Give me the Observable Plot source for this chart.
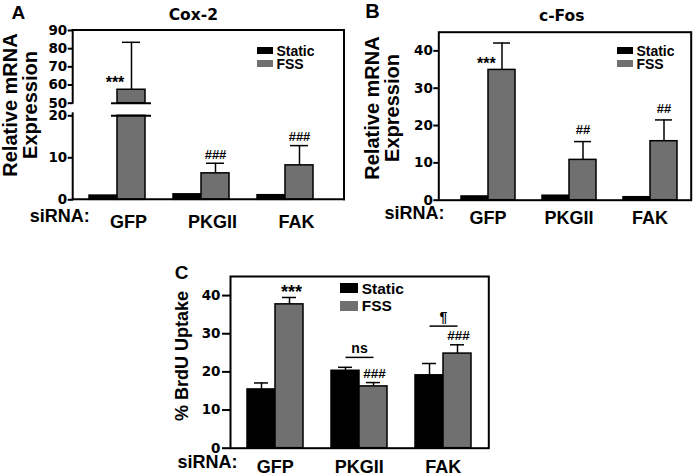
<!DOCTYPE html>
<html><head><meta charset="utf-8">
<script src="https://cdn.jsdelivr.net/npm/d3@7"></script>
<script src="https://cdn.jsdelivr.net/npm/@observablehq/plot@0.6"></script>
<style>
body{margin:0;background:#fff;}
#fig{position:relative;width:693px;height:476px;overflow:hidden;font-family:"Liberation Sans",Arial,Helvetica,sans-serif;font-weight:bold;color:#000;}
.abs{position:absolute;}
.ctr{position:absolute;transform:translate(-50%,-50%);white-space:nowrap;line-height:1;}
.panel svg{overflow:visible;}
.panel svg text{font-weight:bold !important;}
.panel [aria-label^="y-axis"] text{font-family:"DejaVu Sans",sans-serif;font-size:13.5px;}
.panel [aria-label^="y-axis"] line,.panel [aria-label="y-axis tick"] path{stroke-width:2px;}
.ttl{font-family:"DejaVu Sans",sans-serif;}
</style></head><body><div id="fig"></div>
<script>
// ---------- data ----------
const groups = ["GFP", "PKGII", "FAK"];
const conditions = ["Static", "FSS"];
const conditionColors = ["#000000", "#707070"];

// A: Cox-2
const coxStatic = [1.0, 1.3, 1.1];
const coxFSS = [57.4, 6.3, 8.2];
const coxFSSErr = [26.1, 2.4, 4.7];
const coxSig = ["***", "###", "###"];
const coxTicksUpper = [50, 60, 70, 80, 90];
const coxTicksLower = [0, 10, 20];

// B: c-Fos
const fosStatic = [1.0, 1.2, 0.8];
const fosFSS = [34.9, 10.8, 15.8];
const fosFSSErr = [7.2, 4.9, 5.7];
const fosSig = ["***", "##", "##"];
const fosTicks = [0, 10, 20, 30, 40];

// C: BrdU uptake
const brduStatic = [15.4, 20.3, 19.1];
const brduStaticErr = [1.7, 0.9, 3.1];
const brduFSS = [37.7, 16.2, 24.8];
const brduFSSErr = [1.8, 1.0, 2.3];
const brduSig = ["***", "###", "###"];
const brduTicks = [0, 10, 20, 30, 40];
const brduBrackets = [{group: "PKGII", label: "ns", y: 23.8}, {group: "FAK", label: "¶", y: 32.0}];

// ---------- helpers ----------
const FONT = '"Liberation Sans", Arial, Helvetica, sans-serif';
const TICKFONT = '"DejaVu Sans", sans-serif';
const keys = groups.flatMap((g, i) => [...(i ? [" ".repeat(i)] : []), g + " Static", g + " FSS"]);

function table(stat, statErr, fss, fssErr, sig) {
  const rows = [];
  groups.forEach((g, i) => {
    rows.push({group: g, cond: "Static", key: g + " Static", v: stat[i], err: statErr ? statErr[i] : null, sig: null});
    rows.push({group: g, cond: "FSS", key: g + " FSS", v: fss[i], err: fssErr[i], sig: sig[i]});
  });
  return rows;
}

function edges(sides, ext = {}) {
  return (index, scales, values, dim) => {
    const {width, height, marginTop, marginRight, marginBottom, marginLeft} = dim;
    const x0 = marginLeft, x1 = width - marginRight, y0 = marginTop, y1 = height - marginBottom;
    const ns = "http://www.w3.org/2000/svg";
    const g = document.createElementNS(ns, "g");
    const seg = {
      top: [x0, y0, x1, y0],
      bottom: [x0, y1, x1, y1],
      left: [x0, y0 - (ext.leftTop || 0), x0, y1],
      right: [x1, y0 - (ext.rightTop || 0), x1, y1 + (ext.rightBottom || 0)]
    };
    for (const s of sides) {
      const [a, b, c, d] = seg[s];
      const l = document.createElementNS(ns, "line");
      l.setAttribute("x1", a); l.setAttribute("y1", b); l.setAttribute("x2", c); l.setAttribute("y2", d);
      l.setAttribute("stroke", "#000"); l.setAttribute("stroke-width", 2); l.setAttribute("stroke-linecap", "square");
      g.appendChild(l);
    }
    return g;
  };
}

function basePlot(o) {
  return Plot.plot({
    width: o.width, height: o.height,
    marginTop: o.mt, marginRight: o.mr, marginBottom: o.mb, marginLeft: o.ml,
    style: {background: "transparent", fontFamily: TICKFONT, fontSize: "13.5px", fontWeight: "bold", overflow: "visible", color: "#000"},
    x: {domain: keys, axis: null, paddingInner: 0, paddingOuter: o.po, align: o.align},
    y: {domain: o.domain, ticks: o.ticks, tickSize: o.tickSize, tickPadding: o.tickPadding ?? 1, label: null},
    color: {domain: conditions, range: conditionColors},
    marks: o.marks
  });
}

const fig = document.getElementById("fig");
function place(node, left, top) {
  const d = document.createElement("div");
  d.className = "abs panel";
  d.style.left = left + "px"; d.style.top = top + "px";
  d.appendChild(node); fig.appendChild(d);
}
function text(t, x, y, size, extra = {}, cls = "") {
  const d = document.createElement("div");
  d.className = "ctr " + cls;
  d.style.left = x + "px"; d.style.top = y + "px"; d.style.fontSize = size + "px";
  d.innerHTML = t;
  Object.assign(d.style, extra);
  fig.appendChild(d);
}
function legend(x, yc, swW, swH, gap, rowH, fs) {
  conditions.forEach((c, i) => {
    const row = document.createElement("div");
    row.style.cssText = `position:absolute;left:${x}px;top:${yc + i * rowH - rowH / 2}px;height:${rowH}px;display:flex;align-items:center;font-size:${fs}px;line-height:1;white-space:nowrap;`;
    const sw = document.createElement("span");
    sw.style.cssText = `display:inline-block;width:${swW}px;height:${swH}px;background:${conditionColors[i]};margin-right:${gap}px;`;
    row.append(sw, document.createTextNode(c));
    fig.appendChild(row);
  });
}
const barStyle = {x: "key", fill: "cond", stroke: "#000", strokeWidth: 1.5};
const lab = {fontFamily: FONT, fontWeight: "bold", textAnchor: "middle"};

// ---------- Panel A (broken axis: two stacked plots) ----------
const coxRows = table(coxStatic, null, coxFSS, coxFSSErr, coxSig);
const aX = {width: 350, ml: 72.7, mr: 6, po: 0.789, align: 0.336};
const upperRows = coxRows.filter(d => d.v > 50);
place(basePlot({
  ...aX, height: 115, mt: 30, mb: 12.3, domain: [50, 90], ticks: coxTicksUpper, tickSize: 5,
  marks: [
    Plot.barY(upperRows, {...barStyle, y1: 50, y2: "v"}),
    Plot.ruleX(upperRows, {x: "key", y1: "v", y2: d => d.v + d.err, strokeWidth: 1.5}),
    Plot.tickY(upperRows, {x: "key", y: d => d.v + d.err, insetLeft: 5, insetRight: 5, strokeWidth: 1.5}),
    Plot.tickY(upperRows, {x: "key", y: 50, insetLeft: -6, insetRight: -6, strokeWidth: 2}),
    Plot.text(upperRows, {...lab, x: "key", y: "v", text: "sig", dx: -16.5, dy: -6.6, fontSize: 16}),
    edges(["top", "left", "right"], {rightBottom: 12.3})
  ]
}), 0, 0);

const lowerRows = coxRows;
place(basePlot({
  ...aX, height: 128, mt: 7.3, mb: 36.7, domain: [0, 20], ticks: coxTicksLower, tickSize: 5,
  marks: [
    Plot.barY(lowerRows, {...barStyle, y1: 0, y2: d => Math.min(d.v, 20)}),
    Plot.ruleX(lowerRows.filter(d => d.err && d.v < 20), {x: "key", y1: "v", y2: d => d.v + d.err, strokeWidth: 1.5}),
    Plot.tickY(lowerRows.filter(d => d.err && d.v < 20), {x: "key", y: d => d.v + d.err, insetLeft: 5, insetRight: 5, strokeWidth: 1.5}),
    Plot.tickY(lowerRows.filter(d => d.v > 20), {x: "key", y: 20, insetLeft: -6, insetRight: -6, strokeWidth: 2}),
    Plot.text(lowerRows.filter(d => d.sig && d.v < 20), {...lab, x: "key", y: d => d.v + d.err, text: "sig", dy: -8.5, fontSize: 13}),
    Plot.text(groups, {...lab, x: g => g + " FSS", y: 0, text: g => g, dx: -3, dy: 22, fontSize: 18}),
    Plot.text(["siRNA:"], {...lab, frameAnchor: "bottom-left", text: d => d, dx: -13.5, dy: 22, fontSize: 18}),
    edges(["left", "right", "bottom"], {leftTop: 2, rightTop: 8})
  ]
}), 0, 108);

// ---------- Panel B ----------
const fosRows = table(fosStatic, null, fosFSS, fosFSSErr, fosSig);
const fosErr = fosRows.filter(d => d.err);
place(basePlot({
  width: 343, height: 236, mt: 31.7, mr: 2.3, mb: 36.3, ml: 88.3, po: 0.535, align: 0.617,
  domain: [0, 45], ticks: fosTicks, tickSize: 5,
  marks: [
    Plot.frame({strokeWidth: 2}),
    Plot.barY(fosRows, {...barStyle, y1: 0, y2: "v"}),
    Plot.ruleX(fosErr, {x: "key", y1: "v", y2: d => d.v + d.err, strokeWidth: 1.5}),
    Plot.tickY(fosErr, {x: "key", y: d => d.v + d.err, insetLeft: 5, insetRight: 5, strokeWidth: 1.5}),
    Plot.text(fosRows.filter(d => d.group === "GFP" && d.sig), {...lab, x: "key", y: "v", text: "sig", dx: -15.6, dy: -5.7, fontSize: 16}),
    Plot.text(fosRows.filter(d => d.group !== "GFP" && d.sig), {...lab, x: "key", y: d => d.v + d.err, text: "sig", dy: -11.5, fontSize: 13}),
    Plot.text(groups, {...lab, x: g => g + " FSS", y: 0, text: g => g, dx: -14, dy: 18.5, fontSize: 18}),
    Plot.text(["siRNA:"], {...lab, frameAnchor: "bottom-left", text: d => d, dx: -24.3, dy: 18.5, fontSize: 18})
  ]
}), 350, 0);

// ---------- Panel C ----------
const brduRows = table(brduStatic, brduStaticErr, brduFSS, brduFSSErr, brduSig);
place(basePlot({
  width: 493, height: 226, mt: 26, mr: 4.7, mb: 28.3, ml: 230, po: 0.506, align: 0.483,
  domain: [0, 45], ticks: brduTicks, tickSize: 8, tickPadding: 2,
  marks: [
    Plot.frame({strokeWidth: 2}),
    Plot.barY(brduRows, {...barStyle, y1: 0, y2: "v"}),
    Plot.ruleX(brduRows, {x: "key", y1: "v", y2: d => d.v + d.err, strokeWidth: 1.5}),
    Plot.tickY(brduRows, {x: "key", y: d => d.v + d.err, insetLeft: 7, insetRight: 7, strokeWidth: 1.5}),
    Plot.text(brduRows.filter(d => d.group === "GFP" && d.sig), {...lab, x: "key", y: d => d.v + d.err, text: "sig", dx: 2, dy: -4.9, fontSize: 18}),
    Plot.text(brduRows.filter(d => d.group !== "GFP" && d.sig), {...lab, x: "key", y: d => d.v + d.err, text: "sig", dx: 1, dy: -9, fontSize: 13.5}),
    Plot.link(brduBrackets, {x1: d => d.group + " Static", x2: d => d.group + " FSS", y1: "y", y2: "y", strokeWidth: 1.5}),
    Plot.text(brduBrackets, {...lab, x: d => d.group + " Static", y: "y", text: "label", dx: 14, dy: -8.5, fontSize: 14}),
    Plot.text(groups, {...lab, x: g => g + " FSS", y: 0, text: g => g, dx: -14.3, dy: 19.5, fontSize: 18}),
    Plot.text(["siRNA:"], {...lab, frameAnchor: "bottom-left", text: d => d, dx: -23, dy: 19.5, fontSize: 18})
  ]
}), 0, 250);

// ---------- titles, panel letters, axis titles, legends ----------
text("A", 18.3, 11.7, 19);
text("B", 372.5, 11, 20);
text("C", 181.5, 271.5, 19);
text("Cox-2", 193.3, 16, 15.5, {}, "ttl");
text("c-Fos", 561.7, 17, 15.5, {}, "ttl");
text("Relative mRNA<br>Expression", 20, 105, 20, {transform: "translate(-50%,-50%) rotate(-90deg)", lineHeight: "20px", textAlign: "center"});
text("Relative mRNA<br>Expression", 382.4, 108, 20, {transform: "translate(-50%,-50%) rotate(-90deg)", lineHeight: "20px", textAlign: "center"});
text("% BrdU Uptake", 181.6, 356, 18, {transform: "translate(-50%,-50%) rotate(-90deg)", lineHeight: "18px"});
legend(256.7, 50.7, 16.7, 7.5, 3, 12.8, 14);
legend(616.7, 50.5, 16.7, 7.5, 3, 13, 14);
legend(340, 288.3, 18.3, 10, 3.4, 17.4, 15.5);
</script></body></html>
